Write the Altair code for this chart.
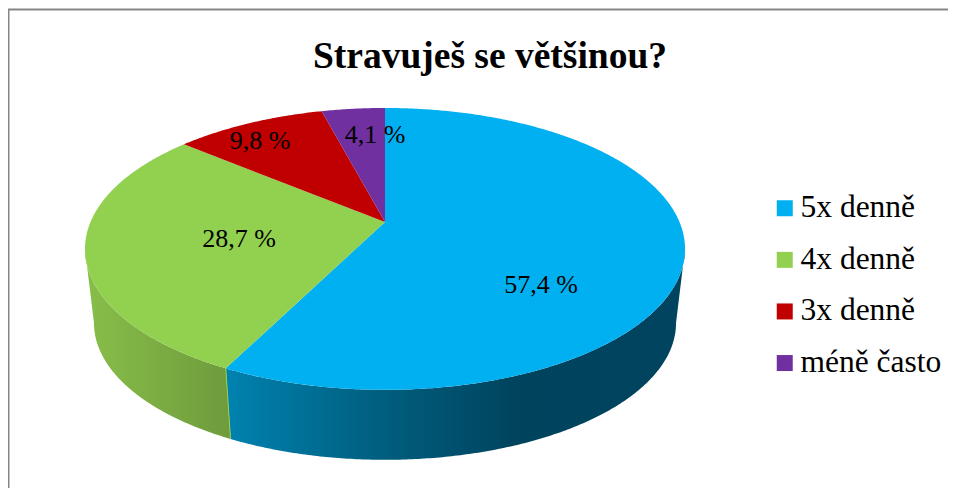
import math
import altair as alt

categories = ["5x denně", "4x denně", "3x denně", "méně často"]
values = [57.4, 28.7, 9.8, 4.1]
colors = ["#00B0F0", "#92D050", "#C00000", "#7030A0"]
label_x = [533, 231, 252, 367]
label_y = [277, 231, 133, 127]
title_text = "Stravuješ se většinou?"
FONT = "Liberation Serif"
W, H = 940, 480

# perspective view of the pie's circle; origin is the plot area (page minus 8px)
CX, AY = 377, 214
A, B, P = 135.8, 294.5, 0.191
S, AY2 = 0.97, 289


def top(theta):
    t = math.radians(theta)
    u, v = math.sin(t), math.cos(t)
    d = 1 + P * v
    return [CX + B * u / d, AY - A * v / d]


def low(theta):
    t = math.radians(theta)
    u, v = math.sin(t), math.cos(t)
    d = 1 + P * v
    return [CX + S * B * u / d, AY2 - S * A * v / d]


def arc(fn, a, b):
    n = max(2, int(abs(b - a) * 2))
    return [fn(a + (b - a) * i / n) for i in range(n + 1)]


def poly(pts, **props):
    ring = pts + [pts[0]]
    return {"type": "Feature", "properties": props,
            "geometry": {"type": "Polygon", "coordinates": [ring]}}


def line(pts):
    return {"type": "Feature", "properties": {},
            "geometry": {"type": "LineString", "coordinates": pts}}


edges = [0.0]
for v in values:
    edges.append(edges[-1] + v / sum(values) * 360)

sectors = [
    poly([[CX, AY]] + arc(top, edges[i], edges[i + 1]), kategorie=categories[i])
    for i in range(len(categories))
]

tangent = math.degrees(math.acos(-P))
blue_wall = poly(arc(top, tangent, edges[1]) + arc(low, edges[1], tangent))
green_wall = poly(arc(top, edges[1], 360 - tangent) + arc(low, 360 - tangent, edges[1]))
seam = line([top(edges[1]), low(edges[1])])
frame = line([[0.5, H], [0.5, 1.5], [W, 1.5]])

proj = alt.Projection(type="identity", scale=1, translate=[0, 0])


def shape(feature, **mark):
    return alt.Chart(alt.Data(values=[feature])).mark_geoshape(**mark).project(**proj.to_dict())


blue_grad = {"gradient": "linear", "x1": 0, "x2": 1, "y1": 0, "y2": 0, "stops": [
    {"offset": 0, "color": "#0082B0"},
    {"offset": 0.33, "color": "#005F80"},
    {"offset": 0.64, "color": "#00435D"},
    {"offset": 1, "color": "#00445F"},
]}
green_grad = {"gradient": "linear", "x1": 0, "x2": 1, "y1": 0, "y2": 0, "stops": [
    {"offset": 0, "color": "#88BE4A"},
    {"offset": 1, "color": "#6F9B3C"},
]}

frame_layer = shape(frame, filled=False, stroke="#868686", strokeWidth=2)
blue_layer = shape(blue_wall, fill=blue_grad, strokeWidth=0)
green_layer = shape(green_wall, fill=green_grad, strokeWidth=0)
seam_layer = shape(seam, filled=False, stroke="#92D050", strokeWidth=1)

sector_layer = (
    alt.Chart(alt.Data(values=sectors))
    .mark_geoshape(strokeWidth=0)
    .project(**proj.to_dict())
    .encode(
        fill=alt.Color(
            "properties.kategorie:N",
            scale=alt.Scale(domain=categories, range=colors),
            legend=alt.Legend(
                title=None,
                orient="none",
                legendX=761,
                legendY=184.5,
                padding=0,
                symbolType="square",
                symbolSize=256,
                symbolStrokeWidth=0,
                symbolOpacity=1,
                labelFont=FONT,
                labelFontSize=31.5,
                labelColor="#000000",
                labelOffset=0,
                rowPadding=18.6,
                labelLimit=300,
            ),
        )
    )
)

label_rows = [
    {"text": f"{v:.1f} %".replace(".", ","), "x": x, "y": y}
    for v, x, y in zip(values, label_x, label_y)
]
label_layer = (
    alt.Chart(alt.Data(values=label_rows))
    .mark_text(font=FONT, fontSize=26, color="#000000", align="center", baseline="middle")
    .encode(
        x=alt.X("x:Q", scale=None),
        y=alt.Y("y:Q", scale=None),
        text="text:N",
    )
)

chart = (
    alt.layer(frame_layer, blue_layer, green_layer, seam_layer, sector_layer, label_layer)
    .properties(
        width=W,
        height=H,
        padding=0,
        autosize=alt.AutoSizeParams(type="none"),
        title=alt.TitleParams(
            title_text,
            font=FONT,
            fontSize=37.5,
            fontWeight="bold",
            color="#000000",
            anchor="middle",
            dx=12,
            dy=67,
            offset=0,
        ),
    )
    .configure_view(stroke=None)
)

chart.save("out.html", embed_options={"renderer": "svg", "actions": False})
